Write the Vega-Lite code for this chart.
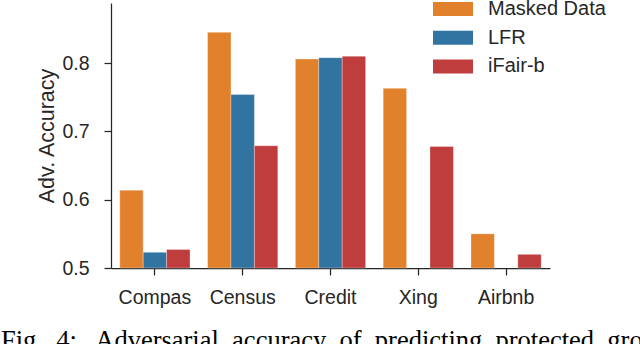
{
  "$schema": "https://vega.github.io/schema/vega-lite/v6.json",
  "width": 439,
  "height": 265,
  "autosize": {"type": "none"},
  "padding": {"left": 111, "top": 3, "right": 90, "bottom": 76},
  "background": "white",
  "title": {
    "text": "Fig.\u00a0 4:\u00a0\u00a0 Adversarial\u00a0 accuracy\u00a0 of\u00a0 predicting\u00a0 protected\u00a0 group\u00a0 membership",
    "orient": "bottom",
    "anchor": "start",
    "frame": "group",
    "font": "Liberation Serif",
    "fontSize": 26.5,
    "fontWeight": "normal",
    "color": "#000000",
    "baseline": "alphabetic",
    "dx": -110,
    "offset": 42
  },
  "data": {
    "values": [
      {"dataset": "Compas", "method": "Masked Data", "acc": 0.614},
      {"dataset": "Compas", "method": "LFR", "acc": 0.523},
      {"dataset": "Compas", "method": "iFair-b", "acc": 0.527},
      {"dataset": "Census", "method": "Masked Data", "acc": 0.845},
      {"dataset": "Census", "method": "LFR", "acc": 0.754},
      {"dataset": "Census", "method": "iFair-b", "acc": 0.679},
      {"dataset": "Credit", "method": "Masked Data", "acc": 0.806},
      {"dataset": "Credit", "method": "LFR", "acc": 0.808},
      {"dataset": "Credit", "method": "iFair-b", "acc": 0.810},
      {"dataset": "Xing", "method": "Masked Data", "acc": 0.763},
      {"dataset": "Xing", "method": "iFair-b", "acc": 0.678},
      {"dataset": "Airbnb", "method": "Masked Data", "acc": 0.550},
      {"dataset": "Airbnb", "method": "iFair-b", "acc": 0.520}
    ]
  },
  "mark": {"type": "bar", "stroke": "white", "strokeWidth": 0.6, "strokeOpacity": 0.5},
  "encoding": {
    "x": {
      "field": "dataset",
      "type": "nominal",
      "sort": ["Compas", "Census", "Credit", "Xing", "Airbnb"],
      "scale": {"paddingInner": 0.2, "paddingOuter": 0.1},
      "axis": {
        "title": null,
        "labelAngle": 0,
        "labelFont": "Liberation Sans",
        "labelFontSize": 19.5,
        "labelColor": "#262626",
        "labelPadding": 13,
        "tickSize": 7,
        "tickWidth": 1.25,
        "tickColor": "#262626",
        "domainColor": "#262626",
        "domainWidth": 1.25,
        "grid": false
      }
    },
    "xOffset": {
      "field": "method",
      "type": "nominal",
      "sort": ["Masked Data", "LFR", "iFair-b"],
      "scale": {"domain": ["Masked Data", "LFR", "iFair-b"], "paddingInner": 0, "paddingOuter": 0}
    },
    "y": {
      "field": "acc",
      "type": "quantitative",
      "scale": {"domain": [0.5, 0.888], "nice": false, "zero": false},
      "axis": {
        "title": "Adv. Accuracy",
        "titleFont": "Liberation Sans",
        "titleFontSize": 21.5,
        "titleFontWeight": "normal",
        "titleColor": "#262626",
        "titlePadding": 3,
        "values": [0.5, 0.6, 0.7, 0.8],
        "format": ".1f",
        "labelFont": "Liberation Sans",
        "labelFontSize": 19.5,
        "labelColor": "#262626",
        "labelPadding": 15,
        "tickSize": 7,
        "tickWidth": 1.25,
        "tickColor": "#262626",
        "domainColor": "#262626",
        "domainWidth": 1.25,
        "grid": false
      }
    },
    "y2": {"datum": 0.5},
    "color": {
      "field": "method",
      "type": "nominal",
      "sort": ["Masked Data", "LFR", "iFair-b"],
      "scale": {"domain": ["Masked Data", "LFR", "iFair-b"], "range": ["#E1812C", "#3274A1", "#C03D3E"]},
      "legend": {
        "orient": "none",
        "legendX": 332,
        "legendY": -4,
        "title": null,
        "symbolType": "M-2.5,-0.875L2.5,-0.875L2.5,0.875L-2.5,0.875Z",
        "symbolSize": 256,
        "symbolStrokeWidth": 0,
        "symbolOpacity": 1,
        "labelFont": "Liberation Sans",
        "labelFontSize": 20,
        "labelColor": "#262626",
        "labelOffset": 25,
        "rowPadding": 8.7
      }
    }
  },
  "config": {"view": {"stroke": null}}
}
